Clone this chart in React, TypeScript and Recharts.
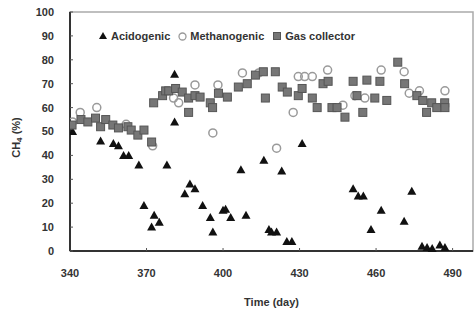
import React from "react";
import {
  ScatterChart,
  Scatter,
  XAxis,
  YAxis,
  ReferenceArea,
} from "recharts";

// Acidogenic reactor (triangles)
const acidDays = [341, 352, 357, 359, 361, 363, 367, 369, 372, 373, 375, 378, 381, 381, 385, 387, 389, 392, 395, 396, 400, 401, 403, 407, 409, 416, 418, 419, 421, 423, 425, 427, 431, 451, 453, 455, 458, 462, 471, 474, 478, 480, 482, 485, 487];
const acidValues = [50, 46, 45, 44, 40, 40, 36, 19, 10, 15, 12, 36, 74, 54, 24, 28, 26, 19, 14, 8, 17, 17.5, 14, 34, 15, 38, 9, 8, 8, 33.5, 4, 4, 45, 26, 23, 23, 9, 17, 12.5, 25, 2, 1.5, 1, 2.5, 1.5];

// Methanogenic reactor (open circles)
const methDays = [341, 344, 350.5, 362, 372.4, 380.6, 382.6, 389, 396, 398, 407.6, 414, 421, 427.5, 429.5, 432, 435, 441, 447, 451.7, 455.6, 462, 471, 473, 477, 487];
const methValues = [54, 58, 60, 53, 44, 64, 62, 69.5, 49.4, 69.5, 74.5, 74.5, 43, 58, 73, 73, 73, 75.7, 61, 65, 64, 75.7, 75, 66, 67, 67];

// Gas collector (filled squares)
const gasDays = [340.8, 344.3, 347, 350, 352, 354, 356.8, 359, 362.7, 364, 366.6, 369, 372, 372.8, 376.3, 377.5, 378.7, 381.4, 384, 386.5, 386.5, 389, 391, 395, 395.9, 398.2, 401.7, 406, 409.5, 412.7, 415.8, 416.6, 420.5, 423.2, 425.2, 429.5, 431, 435, 436.9, 439.2, 441.2, 442.7, 444.7, 447.8, 451, 452.5, 454.8, 456.4, 459.5, 461.5, 464.2, 468.5, 471.2, 476, 478.3, 479.8, 481.8, 483.8, 486.9, 487];
const gasValues = [52.7, 55, 54, 55.6, 52, 55, 52.7, 51.5, 52, 50.6, 48.5, 50.6, 45.6, 62, 65, 67, 67, 68, 66.5, 64, 58, 65, 64.4, 62, 60, 66, 64.4, 68.6, 70, 73.6, 75, 64, 75, 68.6, 66.5, 65, 68, 64, 60, 70, 71, 60, 60, 56, 71, 65, 58, 71.5, 64, 71, 63, 79, 70, 65, 63, 58, 62, 60, 62, 60];

const xTicks = [340, 370, 400, 430, 460, 490];
const yTicks = [0, 10, 20, 30, 40, 50, 60, 70, 80, 90, 100];

const seriesNames = ["Acidogenic", "Methanogenic", "Gas collector"];

const toPoints = (xs: number[], ys: number[]) => xs.map((x, i) => ({ x, y: ys[i] }));
const acidData = toPoints(acidDays, acidValues);
const methData = toPoints(methDays, methValues);
const gasData = toPoints(gasDays, gasValues);

const FONT = "'Liberation Sans', Arial, sans-serif";

const Tri = (p: any) => {
  const { cx, cy } = p;
  if (cx == null || cy == null) return null;
  return <path d={`M${cx},${cy - 4.5}L${cx + 4.5},${cy + 3.5}L${cx - 4.5},${cy + 3.5}Z`} fill="#111" />;
};
const Circ = (p: any) => {
  const { cx, cy } = p;
  if (cx == null || cy == null) return null;
  return <circle cx={cx} cy={cy} r={4} fill="none" stroke="#9a9a9a" strokeWidth={1.5} />;
};
const Sq = (p: any) => {
  const { cx, cy } = p;
  if (cx == null || cy == null) return null;
  return <rect x={cx - 4} y={cy - 4} width={8} height={8} fill="#767676" stroke="#555" strokeWidth={1} />;
};

const LegendBox = () => (
  <div style={{ position: "absolute", top: 30, left: 99, display: "flex", alignItems: "center", fontFamily: FONT, fontSize: 11, fontWeight: "bold", color: "#333", whiteSpace: "nowrap" }}>
    <svg width={8} height={8} style={{ marginRight: 4 }}><path d="M4,0L8,7L0,7Z" fill="#111" /></svg>
    <span style={{ marginRight: 8 }}>{seriesNames[0]}</span>
    <svg width={9} height={9} style={{ marginRight: 3 }}><circle cx={4.5} cy={4.5} r={3.5} fill="none" stroke="#9a9a9a" strokeWidth={1.3} /></svg>
    <span style={{ marginRight: 9 }}>{seriesNames[1]}</span>
    <svg width={8} height={8} style={{ marginRight: 4 }}><rect x={0.5} y={0.5} width={7} height={7} fill="#767676" stroke="#555" /></svg>
    <span>{seriesNames[2]}</span>
  </div>
);

const YLabel = (props: any) => {
  const { viewBox } = props;
  const cy = viewBox.y + viewBox.height / 2 + 6;
  const cx = 16;
  return (
    <text x={cx} y={cy} transform={`rotate(-90 ${cx} ${cy})`} textAnchor="middle" dominantBaseline="central" fontFamily={FONT} fontSize={11} fontWeight="bold" fill="#333">
      CH<tspan fontSize={8} dy={3}>4</tspan><tspan dy={-3}> (%)</tspan>
    </text>
  );
};

export default function App() {
  return (
    <div style={{ position: "absolute", left: 0, top: 0, width: 476, height: 317, background: "#fff" }}>
      <ScatterChart width={476} height={317} margin={{ top: 12, right: 3, left: 0, bottom: 0 }}>
        <ReferenceArea x1={340} x2={498} y1={0} y2={100} fill="none" stroke="#aaa" strokeWidth={1.5} ifOverflow="visible" />
        <XAxis
          type="number"
          dataKey="x"
          domain={[340, 498]}
          ticks={xTicks}
          allowDataOverflow
          height={66}
          tickSize={-3}
          tickMargin={21}
          axisLine={{ stroke: "#333", strokeWidth: 2 }}
          tickLine={{ stroke: "#555" }}
          tick={{ fontFamily: FONT, fontSize: 11, fontWeight: "bold", fill: "#333" }}
          label={{ value: "Time (day)", position: "insideBottom", offset: 11, fontFamily: FONT, fontSize: 11, fontWeight: "bold", fill: "#333" }}
        />
        <YAxis
          type="number"
          dataKey="y"
          domain={[0, 100]}
          ticks={yTicks}
          width={70}
          tickSize={-3}
          tickMargin={19}
          axisLine={{ stroke: "#333", strokeWidth: 2 }}
          tickLine={{ stroke: "#555" }}
          tick={{ fontFamily: FONT, fontSize: 11, fontWeight: "bold", fill: "#333" }}
          label={<YLabel />}
        />
        <Scatter name={seriesNames[0]} data={acidData} shape={Tri} isAnimationActive={false} />
        <Scatter name={seriesNames[1]} data={methData} shape={Circ} isAnimationActive={false} />
        <Scatter name={seriesNames[2]} data={gasData} shape={Sq} isAnimationActive={false} />
      </ScatterChart>
      <LegendBox />
    </div>
  );
}
